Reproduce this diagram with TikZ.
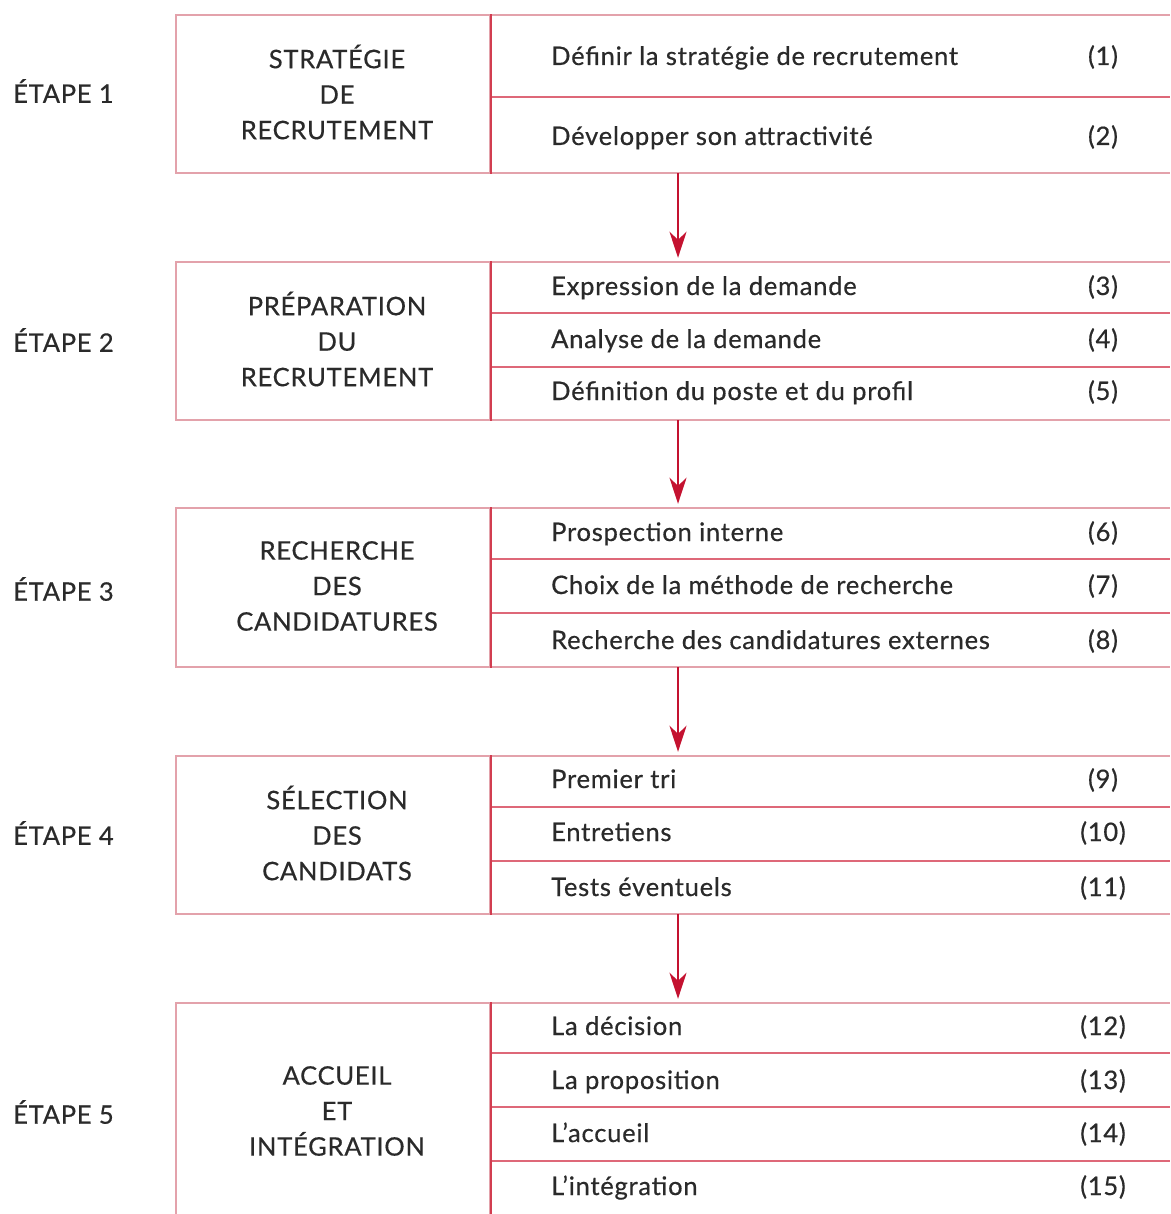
\documentclass[tikz,border=0pt]{standalone}
\usepackage{fontspec}
\setmainfont{Lato}[LetterSpace=3, FakeBold=0.5]
\usetikzlibrary{arrows.meta}
\definecolor{framecol}{HTML}{E3A2AB}
\definecolor{splitcol}{HTML}{D23D50}
\definecolor{rulecol}{HTML}{DE6878}
\definecolor{arrowcol}{HTML}{C41230}
\definecolor{inkcol}{HTML}{2A2A2A}
\tikzset{
  x=1pt, y=-1pt,
  txt/.style={font=\fontsize{25.5}{35.5}\selectfont, text=inkcol, inner sep=0pt},
  stagebox/.style={draw=framecol, line width=1.8pt, minimum width=314pt, txt, align=center},
  rightpart/.style={minimum width=680pt, inner sep=0pt},
  frameline/.style={draw=framecol, line width=1.8pt},
  splitline/.style={draw=splitcol, line width=1.8pt},
  rule/.style={draw=rulecol, line width=2.6pt},
  item/.style={txt, anchor=base west},
  num/.style={txt, anchor=base},
  steplabel/.style={txt, anchor=west},
  flow/.style={draw=arrowcol, line width=2.2pt, -{Stealth[length=26pt,width=17pt,inset=8pt]}},
}
\begin{document}
\begin{tikzpicture}
\path[use as bounding box, clip] (0,0) rectangle (1170,1214);
\fill[white] (0,0) rectangle (1170,1214);
\coordinate (ax) at (678,0);

% ---- Stage 1
\node[stagebox, minimum height=158pt] (s1) at (333,94) {};
\node[txt, align=center] (t1) at (337,92) {STRATÉGIE\\DE\\RECRUTEMENT};
\node[rightpart, minimum height=158pt] (r1) at (830,94) {};
\draw[frameline] (r1.north west) -- (r1.north east);
\draw[frameline] (r1.south west) -- (r1.south east);
\draw[rule] (490,97) -- (r1.east |- 0,97);
\draw[splitline] (s1.north east) -- (s1.south east);
\node[steplabel] (e1) at (13,91) {ÉTAPE 1};
\node[item] (i1) at (551,65) {Définir la stratégie de recrutement};
\node[num] (n1) at (1103,65) {(1)};
\node[item] (i2) at (551,145) {Développer son attractivité};
\node[num] (n2) at (1103,145) {(2)};

% ---- Stage 2
\node[stagebox, minimum height=158pt] (s2) at (333,341) {};
\node[txt, align=center] (t2) at (337,339) {PRÉPARATION\\DU\\RECRUTEMENT};
\node[rightpart, minimum height=158pt] (r2) at (830,341) {};
\draw[frameline] (r2.north west) -- (r2.north east);
\draw[frameline] (r2.south west) -- (r2.south east);
\draw[rule] (490,313) -- (r2.east |- 0,313);
\draw[rule] (490,367) -- (r2.east |- 0,367);
\draw[splitline] (s2.north east) -- (s2.south east);
\node[steplabel] (e2) at (13,340) {ÉTAPE 2};
\node[item] (i3) at (551,295) {Expression de la demande};
\node[num] (n3) at (1103,295) {(3)};
\node[item] (i4) at (551,348) {Analyse de la demande};
\node[num] (n4) at (1103,348) {(4)};
\node[item] (i5) at (551,400) {Définition du poste et du profil};
\node[num] (n5) at (1103,400) {(5)};

% ---- Stage 3
\node[stagebox, minimum height=159pt] (s3) at (333,587.5) {};
\node[txt, align=center] (t3) at (337,586) {RECHERCHE\\DES\\CANDIDATURES};
\node[rightpart, minimum height=159pt] (r3) at (830,587.5) {};
\draw[frameline] (r3.north west) -- (r3.north east);
\draw[frameline] (r3.south west) -- (r3.south east);
\draw[rule] (490,559) -- (r3.east |- 0,559);
\draw[rule] (490,613) -- (r3.east |- 0,613);
\draw[splitline] (s3.north east) -- (s3.south east);
\node[steplabel] (e3) at (13,589) {ÉTAPE 3};
\node[item] (i6) at (551,541) {Prospection interne};
\node[num] (n6) at (1103,541) {(6)};
\node[item] (i7) at (551,594) {Choix de la méthode de recherche};
\node[num] (n7) at (1103,594) {(7)};
\node[item] (i8) at (551,649) {Recherche des candidatures externes};
\node[num] (n8) at (1103,649) {(8)};

% ---- Stage 4
\node[stagebox, minimum height=158pt] (s4) at (333,835) {};
\node[txt, align=center] (t4) at (337,833) {SÉLECTION\\DES\\CANDIDATS};
\node[rightpart, minimum height=158pt] (r4) at (830,835) {};
\draw[frameline] (r4.north west) -- (r4.north east);
\draw[frameline] (r4.south west) -- (r4.south east);
\draw[rule] (490,807) -- (r4.east |- 0,807);
\draw[rule] (490,861) -- (r4.east |- 0,861);
\draw[splitline] (s4.north east) -- (s4.south east);
\node[steplabel] (e4) at (13,833) {ÉTAPE 4};
\node[item] (i9) at (551,788) {Premier tri};
\node[num] (n9) at (1103,788) {(9)};
\node[item] (i10) at (551,841) {Entretiens};
\node[num] (n10) at (1103,841) {(10)};
\node[item] (i11) at (551,896) {Tests éventuels};
\node[num] (n11) at (1103,896) {(11)};

% ---- Stage 5 (runs past the lower edge)
\node[stagebox, minimum height=222pt] (s5) at (333,1114) {};
\node[txt, align=center] (t5) at (337,1111) {ACCUEIL\\ET\\INTÉGRATION};
\node[rightpart, minimum height=222pt] (r5) at (830,1114) {};
\draw[frameline] (r5.north west) -- (r5.north east);
\draw[rule] (490,1053) -- (r5.east |- 0,1053);
\draw[rule] (490,1107) -- (r5.east |- 0,1107);
\draw[rule] (490,1161) -- (r5.east |- 0,1161);
\draw[splitline] (s5.north east) -- (s5.south east);
\node[steplabel] (e5) at (13,1112) {ÉTAPE 5};
\node[item] (i12) at (551,1035) {La décision};
\node[num] (n12) at (1103,1035) {(12)};
\node[item] (i13) at (551,1089) {La proposition};
\node[num] (n13) at (1103,1089) {(13)};
\node[item] (i14) at (551,1142) {L’accueil};
\node[num] (n14) at (1103,1142) {(14)};
\node[item] (i15) at (551,1195) {L’intégration};
\node[num] (n15) at (1103,1195) {(15)};

% ---- Flow arrows between stages
\draw[flow] (r1.south -| ax) -- ([yshift=4pt]r2.north -| ax);
\draw[flow] (r2.south -| ax) -- ([yshift=4pt]r3.north -| ax);
\draw[flow] (r3.south -| ax) -- ([yshift=4pt]r4.north -| ax);
\draw[flow] (r4.south -| ax) -- ([yshift=4pt]r5.north -| ax);
\end{tikzpicture}
\end{document}
